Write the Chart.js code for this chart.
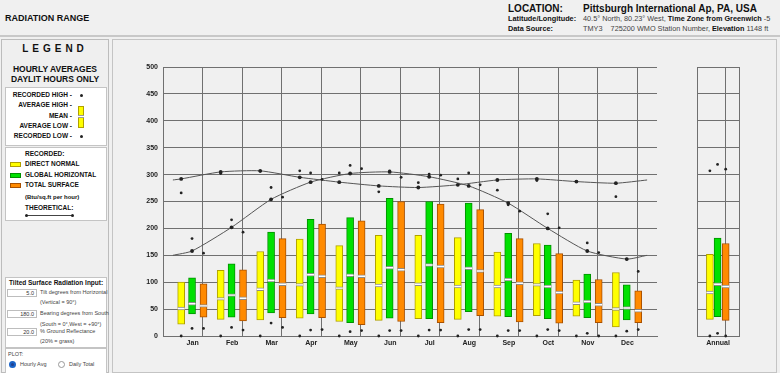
<!DOCTYPE html>
<html><head><meta charset="utf-8">
<script src="https://cdn.jsdelivr.net/npm/chart.js@4.4.1/dist/chart.umd.min.js"></script>
<style>
body{margin:0;width:780px;height:373px;background:#f0f0f0;font-family:"Liberation Sans",Arial,sans-serif;position:relative;overflow:hidden;color:#111;}
.a{position:absolute;white-space:nowrap;}
.b{font-weight:bold;}
.box{position:absolute;background:#fff;border:1px solid #c4c4c4;box-sizing:border-box;}
.lr{position:absolute;left:0;width:72px;text-align:right;font-size:6.5px;font-weight:bold;line-height:8px;}
.lt{position:absolute;left:25px;font-size:6.5px;font-weight:bold;line-height:8px;}
.sw{position:absolute;left:10px;width:11px;height:5px;box-sizing:border-box;}
.inp{position:absolute;left:7px;width:30px;height:8px;background:#fff;border:1px solid #bdbdbd;box-sizing:border-box;font-size:5.5px;line-height:6px;text-align:right;padding-right:2px;color:#333;}
.it{position:absolute;left:40px;font-size:5.5px;line-height:7px;color:#444;}
.dot{position:absolute;width:3px;height:3px;border-radius:50%;background:#222;}
</style></head><body>
<!-- header -->
<div class="a" style="left:0;top:0;width:780px;height:35px;border-bottom:2px solid #c8c8c8;background:#f0f0f0;"></div>
<div class="a b" style="left:5px;top:13px;font-size:9px;line-height:10px;">RADIATION RANGE</div>
<div class="a b" style="left:508px;top:3px;font-size:10px;line-height:11px;">LOCATION:</div>
<div class="a b" style="left:583px;top:3px;font-size:10px;line-height:11px;">Pittsburgh International Ap, PA, USA</div>
<div class="a b" style="left:508px;top:15px;font-size:7.3px;line-height:8px;">Latitude/Longitude:</div>
<div class="a" style="left:583px;top:15px;font-size:7.3px;line-height:8px;color:#444;">40.5° North, 80.23° West, <b style="color:#111">Time Zone from Greenwich</b> -5</div>
<div class="a b" style="left:508px;top:25px;font-size:7.3px;line-height:8px;">Data Source:</div>
<div class="a" style="left:583px;top:25px;font-size:7.3px;line-height:8px;color:#444;">TMY3 &nbsp;&nbsp; 725200 WMO Station Number, <b style="color:#111">Elevation</b> 1148 ft</div>

<!-- left panel -->
<div class="a" style="left:1px;top:39px;width:108px;height:334px;border:1px solid #bcbcbc;box-sizing:border-box;background:#efefef;"></div>
<div class="a b" style="left:1px;width:108px;top:43px;text-align:center;font-size:10px;line-height:12px;letter-spacing:4px;">LEGEND</div>
<div class="a b" style="left:1px;width:108px;top:64px;text-align:center;font-size:8.5px;line-height:10px;">HOURLY AVERAGES</div>
<div class="a b" style="left:1px;width:108px;top:74px;text-align:center;font-size:8.5px;line-height:10px;">DAYLIT HOURS ONLY</div>

<div class="box" style="left:5px;top:87px;width:102px;height:59px;"></div>
<div class="lr" style="top:91px;">RECORDED HIGH -</div>
<div class="lr" style="top:101px;">AVERAGE HIGH -</div>
<div class="lr" style="top:112px;">MEAN -</div>
<div class="lr" style="top:122px;">AVERAGE LOW -</div>
<div class="lr" style="top:132px;">RECORDED LOW -</div>
<div class="dot" style="left:80px;top:94px;"></div>
<div class="a" style="left:78px;top:106px;width:6px;height:22px;background:#ffff00;border:1px solid #b0a000;box-sizing:border-box;"></div>
<div class="a" style="left:78px;top:115px;width:6px;height:3px;background:#fff;border-top:1px solid #999;border-bottom:1px solid #999;box-sizing:border-box;"></div>
<div class="dot" style="left:80px;top:135px;"></div>

<div class="box" style="left:5px;top:147px;width:102px;height:74px;"></div>
<div class="lt" style="top:150px;">RECORDED:</div>
<div class="sw" style="top:162px;background:#ffff00;border:1px solid #b0a000;"></div>
<div class="lt" style="top:160px;">DIRECT NORMAL</div>
<div class="sw" style="top:173px;background:#00e000;border:1px solid #009000;"></div>
<div class="lt" style="top:171px;">GLOBAL HORIZONTAL</div>
<div class="sw" style="top:183px;background:#ff8a00;border:1px solid #a85000;"></div>
<div class="lt" style="top:181px;">TOTAL SURFACE</div>
<div class="lt" style="top:193px;font-size:6px;">(Btu/sq.ft per hour)</div>
<div class="lt" style="top:204px;">THEORETICAL:</div>
<div class="a" style="left:26px;top:215px;width:46px;height:0;border-top:1px solid #444;"></div>
<div class="dot" style="left:25px;top:214px;"></div>
<div class="dot" style="left:71px;top:214px;"></div>

<div class="box" style="left:5px;top:277px;width:102px;height:71px;"></div>
<div class="a b" style="left:9px;top:279px;font-size:6.5px;line-height:8px;">Tilted Surface Radiation Input:</div>
<div class="inp" style="top:289px;">5.0</div>
<div class="it" style="top:289px;">Tilt degrees from Horizontal</div>
<div class="it" style="top:299px;">(Vertical = 90°)</div>
<div class="inp" style="top:310px;">180.0</div>
<div class="it" style="top:310px;">Bearing degrees from South</div>
<div class="it" style="top:321px;">(South = 0°,West = +90°)</div>
<div class="inp" style="top:328px;">20.0</div>
<div class="it" style="top:328px;">% Ground Reflectance</div>
<div class="it" style="top:338px;">(20% = grass)</div>

<div class="box" style="left:5px;top:348px;width:102px;height:26px;"></div>
<div class="a" style="left:8px;top:351px;font-size:5.5px;line-height:7px;color:#444;">PLOT:</div>
<div class="a" style="left:9px;top:361px;width:7px;height:7px;border-radius:50%;border:2px solid #1a64c8;box-sizing:border-box;background:#1f3f8f;"></div>
<div class="a" style="left:20px;top:361px;font-size:5.5px;line-height:7px;color:#444;">Hourly Avg</div>
<div class="a" style="left:58px;top:361px;width:7px;height:7px;border-radius:50%;border:1px solid #999;box-sizing:border-box;background:#fff;"></div>
<div class="a" style="left:69px;top:361px;font-size:5.5px;line-height:7px;color:#444;">Daily Total</div>

<!-- main panel -->
<div class="a" style="left:112px;top:39px;width:665px;height:334px;border:1px solid #c4c4c4;box-sizing:border-box;background:#f0f0f0;"></div>
<canvas id="c1" class="a" width="560" height="300" style="left:115px;top:55px;"></canvas>
<canvas id="c2" class="a" width="60" height="300" style="left:690px;top:55px;"></canvas>

<script>
const MONTHS = ['Jan','Feb','Mar','Apr','May','Jun','Jul','Aug','Sep','Oct','Nov','Dec'];
const ANNUAL_LABEL = 'Annual';
const Y_TICKS = [0,50,100,150,200,250,300,350,400,450,500];

// Recorded Direct Normal (yellow)
const dnLow  = [22, 31, 30, 33, 27, 29, 32, 31, 37, 38, 37, 17];
const dnHigh = [100, 122, 157, 180, 168, 187, 187, 183, 156, 172, 104, 118];
const dnMean = [51, 69, 87, 95, 89, 94, 96, 92, 92, 95, 61, 50];
const dnRecHigh = [266, 302, 306, 307, 303, 268, 285, 292, 271, 289, 287, 259];
const dnRecLow  = [0, 0, 0, 0, 0, 0, 0, 0, 0, 0, 0, 0];
// Recorded Global Horizontal (green)
const ghLow  = [41, 35, 43, 41, 25, 33, 32, 45, 36, 32, 34, 30];
const ghHigh = [108, 134, 193, 217, 220, 256, 250, 247, 191, 169, 115, 95];
const ghMean = [60, 76, 103, 114, 113, 127, 132, 126, 105, 92, 64, 52];
const ghRecHigh = [181, 216, 276, 303, 317, 307, 301, 303, 244, 227, 173, 143];
const ghRecLow  = [14, 16, 24, 11, 8, 10, 11, 12, 10, 12, 5, 9];
// Recorded Total Surface (orange)
const tsLow  = [35, 28, 34, 34, 21, 27, 25, 38, 26, 24, 25, 25];
const tsHigh = [97, 123, 181, 208, 214, 250, 245, 235, 181, 153, 105, 84];
const tsMean = [56, 70, 96, 111, 111, 123, 129, 121, 98, 81, 58, 47];
const tsRecHigh = [154, 193, 258, 291, 311, 295, 299, 281, 232, 201, 155, 120];
const tsRecLow  = [14, 11, 16, 12, 10, 10, 11, 12, 10, 10, 0, 12];
// Theoretical
const dnTheo = [292, 305, 307, 295, 286, 279, 276, 281, 290, 292, 287, 284];
const ghTheo = [158, 202, 254, 286, 302, 305, 296, 279, 247, 200, 158, 143];
const dnTheoEdges = [290, 290];
const ghTheoEdges = [150, 150];
// Annual [dn, gh, ts]
const annLow  = [31, 36, 29];
const annHigh = [152, 182, 172];
const annMean = [81, 96, 92];
const annRecHigh = [307, 319, 310];
const annRecLow  = [0, 5, 0];

const F = '"Liberation Sans", Arial, sans-serif';
const OFF = [0.21, 0.485, 0.775];
const COL = [
  {fill:'#ffff00', border:'#b0a000'},
  {fill:'#00e000', border:'#009000'},
  {fill:'#ff8a00', border:'#a85000'}
];
const GRID = '#707070';

function barDs(lo, hi, k){
  return {type:'bar', data: lo.map((v,i)=>({x:i+OFF[k], y:[v, hi[i]]})),
    backgroundColor:COL[k].fill, borderColor:COL[k].border, borderWidth:1,
    borderSkipped:false, barThickness:7, grouped:false, order:5};
}
function meanDs(m, k){
  return {type:'bar', data: m.map((v,i)=>({x:i+OFF[k], y:[v-2.6, v+2.6]})),
    backgroundColor:'#ffffff', borderColor:'#8a8a8a', borderWidth:{top:1,bottom:1,left:0,right:0},
    borderSkipped:false, barThickness:7, grouped:false, order:4};
}
function dotDs(v, k){
  return {type:'line', data: v.map((y,i)=>({x:i+OFF[k], y})), showLine:false,
    pointRadius:1.4, pointBackgroundColor:'#222', pointBorderWidth:0, clip:false, order:1};
}
function theoDs(vals, edges, k){
  const d = [{x:0, y:edges[0]}].concat(vals.map((y,i)=>({x:i+OFF[k], y}))).concat([{x:12, y:edges[1]}]);
  return {type:'line', data:d, borderColor:'#555', borderWidth:1, tension:0.2,
    pointRadius:c=>(c.dataIndex===0||c.dataIndex===d.length-1)?0:1.9,
    pointBackgroundColor:'#222', pointBorderWidth:0, order:2, clip:false};
}

const yAxis = {
  min:0, max:500,
  afterBuildTicks:s=>{ s.ticks = Y_TICKS.map(v=>({value:v})); },
  ticks:{font:{size:7, weight:'bold', family:F}, color:'#222', padding:5},
  grid:{color:GRID, drawTicks:false},
  border:{color:GRID}
};

Chart.defaults.animation = false;

new Chart(document.getElementById('c1'), {
  type:'bar',
  data:{datasets:[
    barDs(dnLow, dnHigh, 0), barDs(ghLow, ghHigh, 1), barDs(tsLow, tsHigh, 2),
    meanDs(dnMean, 0), meanDs(ghMean, 1), meanDs(tsMean, 2),
    theoDs(dnTheo, dnTheoEdges, 0), theoDs(ghTheo, ghTheoEdges, 1),
    dotDs(dnRecHigh, 0), dotDs(ghRecHigh, 1), dotDs(tsRecHigh, 2),
    dotDs(dnRecLow, 0), dotDs(ghRecLow, 1), dotDs(tsRecLow, 2)
  ]},
  options:{
    responsive:false, devicePixelRatio:1, animation:false,
    layout:{padding:{left:8, top:12, right:18, bottom:0}},
    plugins:{legend:{display:false}, tooltip:{enabled:false}},
    scales:{
      x:{type:'linear', min:0, max:12,
        afterBuildTicks:s=>{ const t=[]; for(let v=0; v<=12; v+=0.5) t.push({value:v}); s.ticks=t; },
        ticks:{autoSkip:false, maxRotation:0, padding:3, color:'#222',
          font:{size:7, weight:'bold', family:F},
          callback:v=>(Math.abs(v%1-0.5)<1e-6 ? MONTHS[Math.floor(v)] : '')},
        grid:{color:c=>(c.tick && Math.abs(c.tick.value%1)<1e-6) ? GRID : 'rgba(0,0,0,0)', drawTicks:false},
        border:{color:GRID},
        afterFit:s=>{ s.height = 19; }
      },
      y:Object.assign({}, yAxis, {afterFit:s=>{ s.width = 40; }})
    }
  }
});

function annDs(){
  const ds = [];
  for(let k=0;k<3;k++){
    ds.push({type:'bar', data:[{x:OFF[k], y:[annLow[k], annHigh[k]]}], backgroundColor:COL[k].fill,
      borderColor:COL[k].border, borderWidth:1, borderSkipped:false, barThickness:7, grouped:false, order:5});
    ds.push({type:'bar', data:[{x:OFF[k], y:[annMean[k]-2.6, annMean[k]+2.6]}], backgroundColor:'#fff',
      borderColor:'#8a8a8a', borderWidth:{top:1,bottom:1,left:0,right:0}, borderSkipped:false, barThickness:7, grouped:false, order:4});
    ds.push({type:'line', data:[{x:OFF[k], y:annRecHigh[k]}, {x:OFF[k], y:annRecLow[k]}], showLine:false,
      pointRadius:1.4, pointBackgroundColor:'#222', pointBorderWidth:0, clip:false, order:1});
  }
  return ds;
}

new Chart(document.getElementById('c2'), {
  type:'bar',
  data:{datasets:annDs()},
  options:{
    responsive:false, devicePixelRatio:1, animation:false,
    layout:{padding:{left:7, top:12, right:11, bottom:0}},
    plugins:{legend:{display:false}, tooltip:{enabled:false}},
    scales:{
      x:{type:'linear', min:0, max:1,
        afterBuildTicks:s=>{ s.ticks=[{value:0},{value:0.5},{value:1}]; },
        ticks:{autoSkip:false, maxRotation:0, padding:3, color:'#222',
          font:{size:7, weight:'bold', family:F},
          callback:v=>(Math.abs(v-0.5)<1e-6 ? ANNUAL_LABEL : '')},
        grid:{color:c=>(c.tick && Math.abs(c.tick.value-0.5)<1e-6) ? 'rgba(0,0,0,0)' : GRID, drawTicks:false},
        border:{color:GRID},
        afterFit:s=>{ s.height = 19; }
      },
      y:Object.assign({}, yAxis, {ticks:{display:false}, afterFit:s=>{ s.width = 0; }})
    }
  }
});
</script>
</body></html>
